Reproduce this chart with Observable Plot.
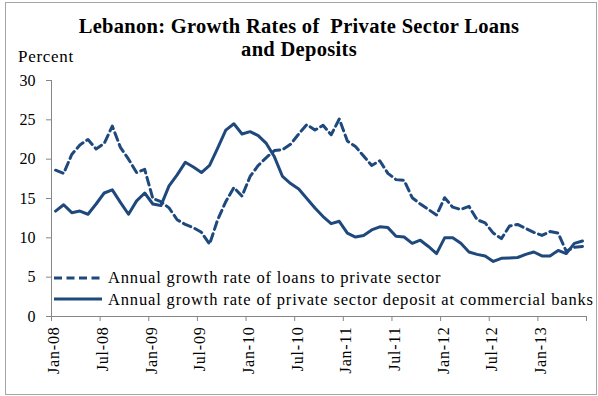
<!DOCTYPE html>
<html>
<head>
<meta charset="utf-8">
<script src="https://cdn.jsdelivr.net/npm/d3@7"></script>
<script src="https://cdn.jsdelivr.net/npm/@observablehq/plot@0.6"></script>
<style>
  html, body { margin: 0; padding: 0; background: #fff; }
  #wrap { position: relative; width: 598px; height: 396px; font-family: "Liberation Serif", serif; color: #000; }
  #frame { position: absolute; left: 5px; top: 2px; width: 592px; height: 393px; box-sizing: border-box; border: 1px solid #a6a6a6; }
  #title { position: absolute; left: 0; width: 598px; top: 15px; text-align: center; font-weight: bold; font-size: 20.5px; line-height: 23px; letter-spacing: 0.3px; }
  #ylab { position: absolute; left: 18px; top: 47px; font-size: 17px; letter-spacing: 0.7px; }
  #chart { position: absolute; left: 0; top: 0; }
  #legend { position: absolute; left: 54px; top: 267px; font-size: 16.5px; letter-spacing: 0.84px; line-height: 21.5px; }
  #legend div { display: flex; align-items: center; white-space: nowrap; }
  #legend svg { margin-right: 6px; }
  #chart g[aria-label$="tick"] { stroke: #868686; }
  #chart g[aria-label="text"] text { letter-spacing: 0.8px; }
</style>
</head>
<body>
<div id="wrap">
  <div id="frame"></div>
  <div id="chart"></div>
  <div id="title">Lebanon: Growth Rates of&nbsp; Private Sector Loans<br>and Deposits</div>
  <div id="ylab">Percent</div>
  <div id="legend"></div>
</div>
<script>
// Monthly observations, Jan-08 .. Jun-13 (66 months)
const loans = [18.6,18.2,20.6,21.8,22.5,21.3,22.0,24.2,21.5,20.0,
  18.3,18.7,15.0,14.6,13.8,12.3,11.7,11.3,10.7,9.2,
  12.3,14.6,16.4,15.3,17.8,19.2,20.2,21.1,21.2,21.9,
  23.2,24.4,23.7,24.3,23.1,25.1,22.3,21.6,20.4,19.2,
  19.8,18.2,17.4,17.3,15.1,14.3,13.6,12.9,15.1,13.9,
  13.6,14.0,12.3,11.9,10.6,9.9,11.5,11.7,11.2,10.7,
  10.3,10.8,10.6,8.3,8.8,8.9];
const deposits = [13.4,14.2,13.2,13.4,13.0,14.3,15.7,16.1,14.5,13.0,
  14.7,15.7,14.3,14.1,16.6,18.0,19.6,19.0,18.3,19.2,
  21.4,23.7,24.5,23.2,23.5,23.0,22.0,20.3,17.8,16.9,
  16.2,15.0,13.8,12.7,11.8,12.1,10.6,10.1,10.3,11.0,
  11.4,11.3,10.2,10.1,9.3,9.7,8.9,8.0,10.0,10.0,
  9.3,8.2,7.9,7.7,7.0,7.4,7.45,7.5,7.9,8.2,
  7.7,7.7,8.4,8.0,9.3,9.6];
const xTickLabels = ["Jan-08","Jul-08","Jan-09","Jul-09","Jan-10","Jul-10","Jan-11","Jul-11","Jan-12","Jul-12","Jan-13"];
const yTicks = [0,5,10,15,20,25,30];
const seriesNames = ["Annual growth rate of loans to private sector",
                     "Annual growth rate of private sector deposit at commercial banks"];
const lineColor = "#1f497d";

const nMonths = loans.length;
const rows = loans.map((v, i) => ({x: i + 0.5, loans: v, deposits: deposits[i]}));
const tickPos = d3.range(0, nMonths + 1, 6);
const labelRows = xTickLabels.map((t, k) => ({x: k * 6 + 0.35, label: t}));

const chart = Plot.plot({
  width: 598,
  height: 396,
  marginLeft: 51,
  marginRight: 12,
  marginTop: 80,
  marginBottom: 80,
  style: {fontFamily: "Liberation Serif, serif", fontSize: "16px", color: "#000", background: "transparent", overflow: "visible"},
  x: {domain: [0, nMonths], ticks: tickPos, tickSize: 5, tickFormat: () => "", label: null},
  y: {domain: [0, 30], ticks: yTicks, tickSize: 5, tickPadding: 11, label: null},
  marks: [
    Plot.ruleX([0], {stroke: "#868686"}),
    Plot.ruleY([0], {stroke: "#868686"}),
    Plot.line(rows, {x: "x", y: "loans", stroke: lineColor, strokeWidth: 3, strokeDasharray: "8,4.5", strokeLinejoin: "round"}),
    Plot.line(rows, {x: "x", y: "deposits", stroke: lineColor, strokeWidth: 3, strokeLinejoin: "round"}),
    Plot.text(labelRows, {x: "x", y: () => 0, text: "label", rotate: -90, textAnchor: "end", lineAnchor: "middle", dy: 10, fontSize: 16, fill: "#000"})
  ]
});
document.getElementById("chart").appendChild(chart);

// legend
const legend = document.getElementById("legend");
seriesNames.forEach((name, k) => {
  const row = document.createElement("div");
  const dash = k === 0 ? 'stroke-dasharray="8,4.5"' : "";
  row.innerHTML = `<svg width="48" height="6"><line x1="0" x2="48" y1="3" y2="3" stroke="${lineColor}" stroke-width="3" ${dash}/></svg><span>${name}</span>`;
  legend.appendChild(row);
});
</script>
</body>
</html>
